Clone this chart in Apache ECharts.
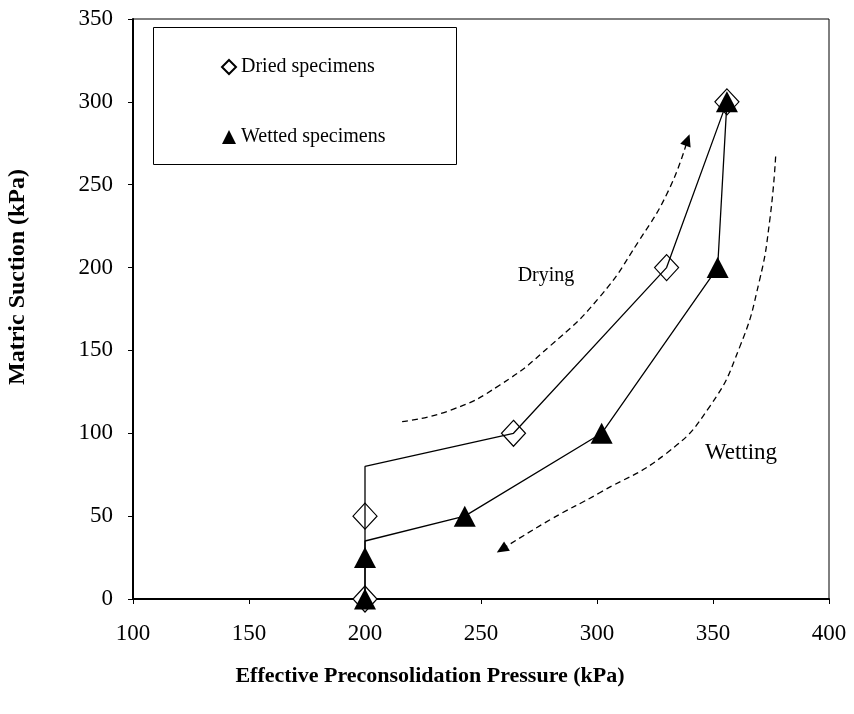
<!DOCTYPE html>
<html>
<head>
    <meta charset="UTF-8">
    <title>Matric suction vs preconsolidation pressure</title>
    <script src="https://cdn.jsdelivr.net/npm/echarts@6/dist/echarts.min.js"></script>
    <style>
        body { margin: 0; background: #fff; }
    </style>
</head>
<body>
    <div id="main" style="width: 854px; height: 714px;"></div>
    <script>
        // measured points [pressure kPa, suction kPa]
        var driedPoints = [[200, 0], [200, 50], [264, 100], [330, 200], [356, 300]];
        var wettedPoints = [[200, 0], [200, 25], [243, 50], [302, 100], [352, 200], [356, 300]];
        // the joining lines (they bend at the vertical part, not at the markers)
        var driedLine = [[200, 0], [200, 80], [264, 100], [330, 200], [356, 300]];
        var wettedLine = [[200, 0], [200, 35], [243, 50], [302, 100], [352, 200], [356, 300]];
        // dashed guide curves
        var dryingCurve = [[216, 107], [237, 114], [258, 129], [280, 153], [301, 182], [318, 216], [331, 247], [339, 277]];
        var wettingCurve = [[377, 267], [374.5, 229], [370, 192], [361.5, 152], [348.5, 116], [330, 88], [301, 64], [280, 48], [259, 30]];

        var fontFam = '"Liberation Serif", "Times New Roman", serif';

        // last point of a curve carries the arrow head
        function withArrow(pts, rot) {
            return pts.map(function (p, i) {
                if (i < pts.length - 1) return p;
                return { value: p, symbol: 'triangle', symbolSize: [11, 12], symbolRotate: rot };
            });
        }

        var myChart = echarts.init(document.getElementById('main'));

        var option = {
            animation: false,
            backgroundColor: '#fff',
            grid: {
                left: 133, right: 25, top: 19, bottom: 115,
                show: true, borderColor: '#000', borderWidth: 1
            },
            xAxis: {
                type: 'value', min: 100, max: 400, interval: 50,
                axisLine: { lineStyle: { color: '#000', width: 2 } },
                axisTick: { lineStyle: { color: '#000', width: 1 }, length: 5 },
                splitLine: { show: false },
                axisLabel: { color: '#000', fontFamily: fontFam, fontSize: 23, margin: 23 }
            },
            yAxis: {
                type: 'value', min: 0, max: 350, interval: 50,
                axisLine: { lineStyle: { color: '#000', width: 2 } },
                axisTick: { lineStyle: { color: '#000', width: 1 }, length: 5 },
                splitLine: { show: false },
                axisLabel: { color: '#000', fontFamily: fontFam, fontSize: 23, margin: 20 }
            },
            legend: {
                orient: 'vertical', left: 216, top: 51,
                itemWidth: 14, itemHeight: 14, itemGap: 48,
                textStyle: { color: '#000', fontFamily: fontFam, fontSize: 20, lineHeight: 22 },
                data: [
                    { name: 'Dried specimens', icon: 'diamond' },
                    { name: 'Wetted specimens', icon: 'triangle' }
                ]
            },
            graphic: [
                {
                    type: 'rect', left: 153, top: 27, z: 1,
                    shape: { width: 303, height: 137 },
                    style: { fill: '#fff', stroke: '#000', lineWidth: 1 }
                },
                {
                    type: 'text', x: 546, y: 276,
                    style: { text: 'Drying', fill: '#000', font: '20px ' + fontFam, align: 'center', verticalAlign: 'middle' }
                },
                {
                    type: 'text', x: 741, y: 453,
                    style: { text: 'Wetting', fill: '#000', font: '23px ' + fontFam, align: 'center', verticalAlign: 'middle' }
                },
                {
                    type: 'text', x: 430, y: 676,
                    style: {
                        text: 'Effective Preconsolidation Pressure (kPa)', fill: '#000',
                        font: 'bold 22px ' + fontFam, align: 'center', verticalAlign: 'middle'
                    }
                },
                {
                    type: 'text', x: 18, y: 277, rotation: Math.PI / 2,
                    style: {
                        text: 'Matric Suction (kPa)', fill: '#000',
                        font: 'bold 24px ' + fontFam, align: 'center', verticalAlign: 'middle'
                    }
                }
            ],
            series: [
                {
                    name: 'dried line', type: 'line', data: driedLine,
                    symbol: 'none', lineStyle: { color: '#000', width: 1.3 }
                },
                {
                    name: 'wetted line', type: 'line', data: wettedLine,
                    symbol: 'none', lineStyle: { color: '#000', width: 1.3 }
                },
                {
                    name: 'drying arrow', type: 'line', data: withArrow(dryingCurve, -20),
                    smooth: true, symbol: 'none', showSymbol: true,
                    itemStyle: { color: '#000' },
                    lineStyle: { color: '#000', width: 1.3, type: [6, 4] }
                },
                {
                    name: 'wetting arrow', type: 'line', data: withArrow(wettingCurve, 122),
                    smooth: true, symbol: 'none', showSymbol: true,
                    itemStyle: { color: '#000' },
                    lineStyle: { color: '#000', width: 1.3, type: [6, 4] }
                },
                {
                    name: 'Dried specimens', type: 'scatter', data: driedPoints,
                    symbol: 'diamond', symbolSize: [24, 26],
                    itemStyle: { color: '#fff', borderColor: '#000', borderWidth: 1.2, opacity: 1 }
                },
                {
                    name: 'Wetted specimens', type: 'scatter', data: wettedPoints,
                    symbol: 'triangle', symbolSize: [22, 21],
                    itemStyle: { color: '#000', opacity: 1 }
                }
            ]
        };
        myChart.setOption(option);
    </script>
</body>
</html>
